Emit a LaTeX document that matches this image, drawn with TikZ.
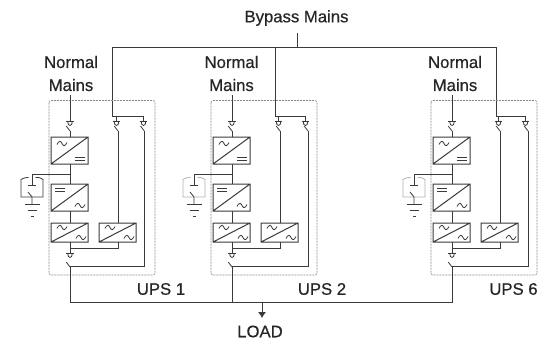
\documentclass[tikz,border=0pt]{standalone}
\usepackage{fontspec}
\setmainfont{Liberation Sans}[FakeBold=0.5]
\usetikzlibrary{arrows.meta}
\definecolor{wire}{HTML}{3A3A3A}
\definecolor{dashc}{HTML}{8A8A8A}
\tikzset{
 x=1pt,y=-1pt,
 wireline/.style={draw=wire,line width=0.8pt},
 conv/.style={draw=wire,line width=1pt,fill=white},
 label/.style={font=\fontsize{16.7}{23}\selectfont,text=black!85,inner sep=0pt,align=center},
}
\newcommand{\fuse}[2]{%
 \draw[wireline] (#1-3.8,#2) -- (#1+3.8,#2);
 \draw[wireline] (#1-2.4,#2) .. controls (#1-2.4,#2+6) and (#1+2.4,#2+6) .. (#1+2.4,#2);}
\newcommand{\swch}[2]{\draw[wireline] (#1-3.8,#2) -- (#1,#2+5);}
\newcommand{\wave}[2]{\draw[wireline] (#1-5,#2+1) .. controls (#1-3,#2-3.5) and (#1-1,#2-2.5) .. (#1,#2) .. controls (#1+1,#2+2.5) and (#1+3,#2+3.5) .. (#1+5,#2-1);}
\newcommand{\dc}[2]{\draw[wireline] (#1-5,#2-1.5) -- (#1+5,#2-1.5) (#1-5,#2+1.5) -- (#1+5,#2+1.5);}
\newcommand{\convbox}[4]{\draw[conv] (#1,#2) rectangle (#3,#4) (#1,#4) -- (#3,#2);}
\newcommand{\ups}[3]{%
\begin{scope}[xshift=#1]
 \draw[draw=dashc,line width=0.6pt,dash pattern=on 2pt off 1pt,rounded corners=2pt] (49,100.5) rectangle (155,275);
 \draw[wireline] (70,95) -- (70,121);
 \fuse{70}{121}\swch{70}{126}
 \draw[wireline] (70,131) -- (70,137);
 \draw[wireline] (114,116) -- (143.5,116);
 \draw[wireline] (116.5,116) -- (116.5,121);
 \draw[wireline] (143.5,116) -- (143.5,121);
 \fuse{116.5}{121}\swch{118}{126}
 \fuse{143.5}{121}\swch{#3}{126}
 \draw[wireline] (118,131) -- (118,223);
 \draw[wireline] (#3,131) -- (#3,266.5) -- (70,266.5);
 \draw[wireline] (70,164) -- (70,184);
 \draw[wireline] (70,211) -- (70,223);
 \draw[wireline] (70,242) -- (70,253);
 \draw[wireline] (70,248) -- (118,248) -- (118,242);
 \fuse{70}{253}\swch{70}{262}
 \convbox{51}{137}{88}{164}
 \convbox{51}{184}{88}{211}
 \convbox{51}{223}{88}{242}
 \convbox{99}{223}{136}{242}
 \wave{62}{143.5}\dc{80}{158.5}
 \dc{60}{190}\wave{80}{205.5}
 \wave{62}{227.5}\wave{81}{237.5}
 \wave{110}{227.5}\wave{129}{237.5}
 \draw[wireline] (70,174.5) -- (32,174.5) -- (32,185);
 \draw[wireline] (28,185) -- (36,185);
 \draw[draw=#2,line width=0.8pt] (28.5,177.5) .. controls (25,177.5) .. (21,179.5) -- (21,197) -- (43,197) -- (43,179.5) .. controls (40,177.5) .. (35.5,177.5);
 \draw[wireline] (28,192) -- (32,197) -- (32,204);
 \draw[wireline] (24.5,204.5) -- (40,204.5) (27.5,210.5) -- (37,210.5) (31,216.5) -- (34,216.5);
\end{scope}}
\begin{document}
\begin{tikzpicture}
\useasboundingbox (0,0) rectangle (546,340);
\fill[white] (0,0) rectangle (546,340);
\node[label] (bm) at (296.5,18) {Bypass Mains};
\node[label] (n1) at (71,73.5) {Normal\\Mains};
\node[label] (n2) at (231.5,73.5) {Normal\\Mains};
\node[label] (n3) at (455,73.5) {Normal\\Mains};
\coordinate (bt) at (297,33);
\coordinate (bj) at (297,47);
\coordinate (bl) at (112,47);
\coordinate (bm2) at (275,47);
\coordinate (br) at (496,47);
\draw[wireline] (bt) -- (bj);
\draw[wireline] (115,116) -- (112,116) -- (bl) -- (br) -- (496,116);
\draw[wireline] (bm2) -- (275,116) -- (277,116);
\ups{0pt}{wire}{144.3}
\ups{162pt}{gray!60}{146}
\ups{382pt}{gray!60}{146}
\node[label] (u1) at (161,289) {UPS 1};
\node[label] (u2) at (322,289) {UPS 2};
\node[label] (u3) at (513.5,289) {UPS 6};
\draw[wireline] (70,266.5) -- (70,302) -- (452,302) -- (452,266.5);
\draw[wireline] (232,266.5) -- (232,302);
\coordinate (at) at (262,302);
\node[label] (load) at (260,331.5) {LOAD};
\draw[wireline,-{Latex[length=6pt,width=8pt]}] (at) -- (262,318);
\end{tikzpicture}
\end{document}
